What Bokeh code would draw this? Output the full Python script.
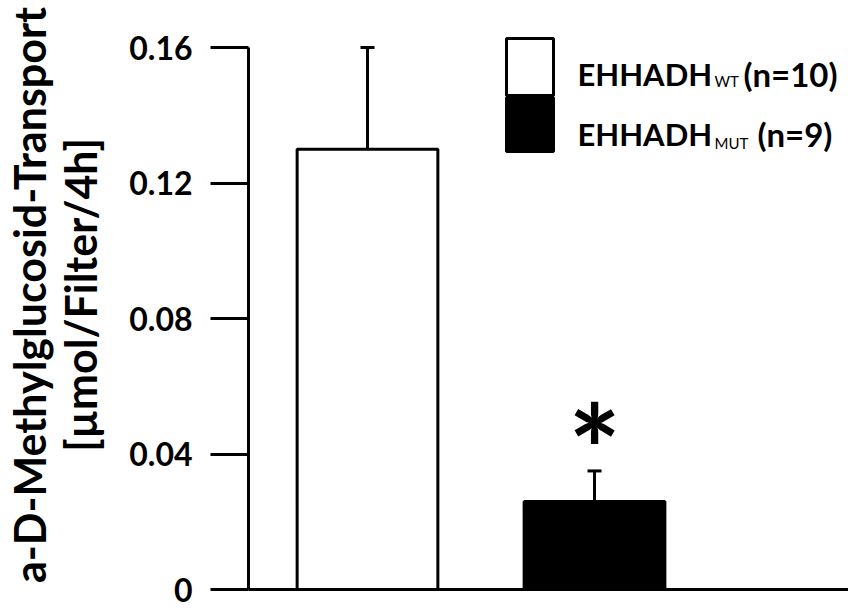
import math
from bokeh.plotting import figure
from bokeh.models import (Range1d, FixedTicker, CustomJSTickFormatter, Label,
                          Whisker, TeeHead, ColumnDataSource)
from bokeh.embed import file_html
from bokeh.resources import INLINE

# ---- data ----
groups = ["EHHADH_WT", "EHHADH_MUT"]
legend_main = ["EHHADH", "EHHADH"]
legend_sub = ["WT", "MUT"]
legend_n = ["(n=10)", "(n=9)"]
means = [0.130, 0.026]
sems = [0.030, 0.009]
fills = ["white", "black"]
y_ticks = [0, 0.04, 0.08, 0.12, 0.16]
y_title_1 = "a-D-Methylglucosid-Transport"
y_title_2 = "[µmol/Filter/4h]"
signif = ["", "*"]

# ---- layout (pixels) ----
W, H = 848, 610
FL, FR, FT, FB = 248, 848, 0, 589
PX_PER_X = 227.0
PX_PER_Y = (589 - 47) / 0.16
X0 = 1 - (367 - FL) / PX_PER_X
x_start, x_end = X0, X0 + (FR - FL) / PX_PER_X
y_end = (FB - FT) / PX_PER_Y


def dx(px):
    return X0 + (px - FL) / PX_PER_X


def dy(py):
    return (FB - py) / PX_PER_Y


FONT = "Lato"

p = figure(width=W, height=H, x_range=Range1d(x_start, x_end),
           y_range=Range1d(0, y_end), output_backend="svg",
           toolbar_location=None, min_border_left=FL, min_border_right=0,
           min_border_top=0, min_border_bottom=H - FB)
p.outline_line_color = None
p.grid.visible = False
p.background_fill_color = "white"

# y axis
p.yaxis.ticker = FixedTicker(ticks=y_ticks)
p.yaxis.bounds = (y_ticks[0], y_ticks[-1])
p.yaxis.formatter = CustomJSTickFormatter(
    code="return tick == 0 ? '0' : tick.toFixed(2);")
p.yaxis.axis_line_width = 3
p.yaxis.axis_line_color = "black"
p.yaxis.major_tick_line_width = 3
p.yaxis.major_tick_line_color = "black"
p.yaxis.major_tick_out = 38
p.yaxis.major_tick_in = 0
p.yaxis.minor_tick_line_color = None
p.yaxis.major_label_text_font = FONT
p.yaxis.major_label_text_font_style = "bold"
p.yaxis.major_label_text_font_size = "32px"
p.yaxis.major_label_text_color = "black"
p.yaxis.major_label_standoff = 18
p.yaxis.axis_label = y_title_1 + "\n" + y_title_2
p.yaxis.axis_label_text_font = FONT
p.yaxis.axis_label_text_font_style = "bold"
p.yaxis.axis_label_text_font_size = "43px"
p.yaxis.axis_label_text_color = "black"
p.yaxis.axis_label_text_line_height = 1.0
p.yaxis.axis_label_standoff = 20
p.yaxis.axis_label_text_align = "center"

# x axis
p.xaxis.ticker = FixedTicker(ticks=[])
p.xaxis.axis_line_width = 3
p.xaxis.axis_line_color = "black"
p.xaxis.major_tick_line_color = None
p.xaxis.minor_tick_line_color = None
p.xaxis.major_label_text_font_size = "0px"
p.xaxis.major_label_standoff = 0

xs = [i + 1 for i in range(len(groups))]
src = ColumnDataSource(dict(
    x=xs, top=means, fill=fills,
    upper=[m + s for m, s in zip(means, sems)], lower=means))

p.vbar(x="x", top="top", bottom=0, width=0.62, source=src,
       fill_color="fill", line_color="black", line_width=3)

p.add_layout(Whisker(source=src, base="x", upper="upper", lower="lower",
                     line_width=3, line_color="black",
                     upper_head=TeeHead(size=14, line_width=3, line_color="black"),
                     lower_head=None))

for i, s in enumerate(signif):
    if s:
        p.add_layout(Label(x=xs[i], y=means[i] + sems[i], text=s,
                           text_align="center", text_baseline="middle",
                           y_offset=23, text_font=FONT,
                           text_font_style="bold", text_font_size="124px",
                           text_color="black"))

# legend
sw = [(38, 95), (97, 151)]
base = [73, 133]
subb = [80, 142]
n_x = [743, 757]
for i in range(len(groups)):
    t, b = sw[i]
    p.quad(left=dx(506), right=dx(553), top=dy(t), bottom=dy(b),
           fill_color=fills[i], line_color="black", line_width=3)
    p.add_layout(Label(x=dx(577), y=dy(base[i]), text=legend_main[i],
                       text_font=FONT, text_font_style="bold",
                       text_font_size="31px", text_baseline="alphabetic",
                       text_color="black"))
    p.add_layout(Label(x=dx(714), y=dy(subb[i]), text=legend_sub[i],
                       text_font=FONT, text_font_style="normal",
                       text_font_size="15px", text_baseline="alphabetic",
                       text_color="black"))
    p.add_layout(Label(x=dx(n_x[i]), y=dy(base[i]), text=legend_n[i],
                       text_font=FONT, text_font_style="bold",
                       text_font_size="33px", text_baseline="alphabetic",
                       text_color="black"))

open("out.html", "w").write(file_html(p, INLINE))
